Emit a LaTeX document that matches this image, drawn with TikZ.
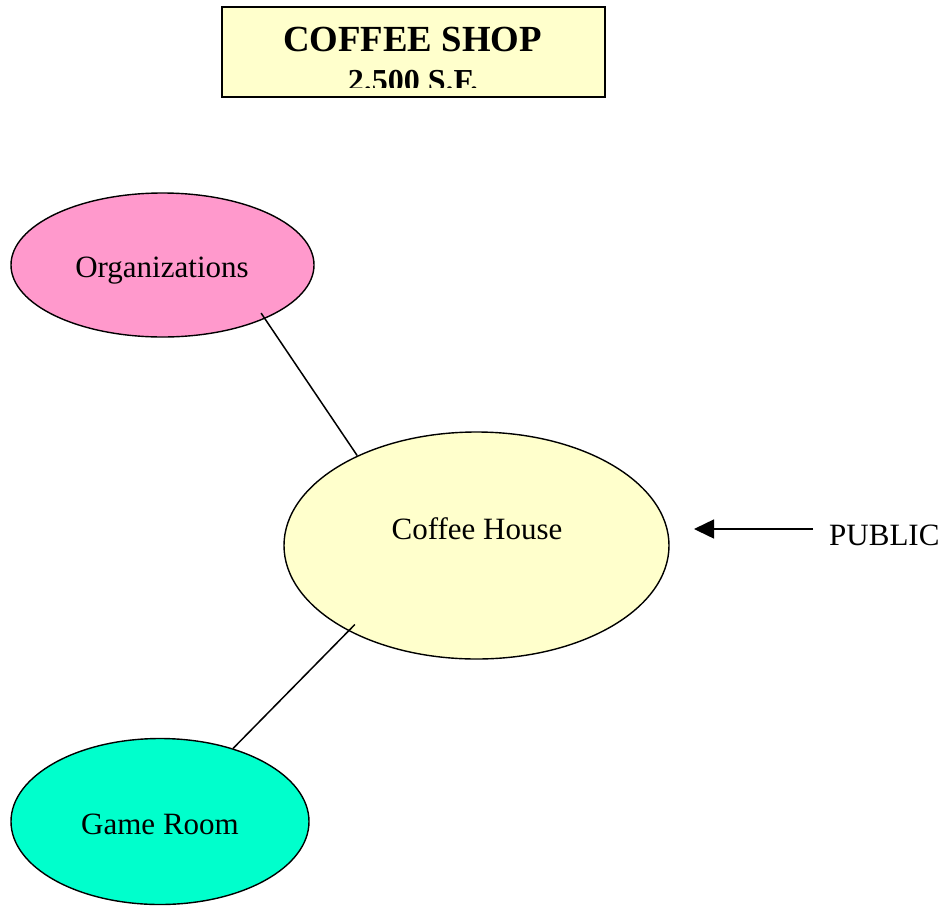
\documentclass[tikz,border=0pt]{standalone}
\usepackage{fontspec}
\setmainfont{Liberation Serif}
\usetikzlibrary{shapes.geometric,arrows.meta,calc}

\definecolor{orgpink}{HTML}{FF99CC}
\definecolor{paleyellow}{HTML}{FFFFCC}
\definecolor{gameteal}{HTML}{00FFCC}

\tikzset{
  room/.style={ellipse, draw=black, line width=1.4pt, inner sep=0pt},
  roomlabel/.style={anchor=base, inner sep=0pt, font=\fontsize{31}{31}\selectfont},
  link/.style={draw=black, line width=1.5pt},
  titlebox/.style={draw=black, line width=1.5pt, fill=paleyellow}
}

\begin{document}
\begin{tikzpicture}[x=1pt, y=-1pt]
  \useasboundingbox (0,0) rectangle (947,905);

  % title block
  \draw[titlebox] (222,7) rectangle (605,97);
  \node[anchor=base, inner sep=0pt, font=\bfseries\fontsize{36.8}{36.8}\selectfont] (title) at (412.5,51) {COFFEE SHOP};
  \begin{scope}
    \clip (223,60) rectangle (604,87.5);
    \node[anchor=base, inner sep=0pt, font=\bfseries\fontsize{32}{32}\selectfont] (area) at (413,91) {2.500 S.F.};
  \end{scope}

  % rooms
  \node[room, fill=orgpink, minimum width=303pt, minimum height=144pt] (org) at (162.5,265) {};
  \node[room, fill=paleyellow, minimum width=385pt, minimum height=227pt] (coffee) at (476.5,545.5) {};
  \node[room, fill=gameteal, minimum width=298pt, minimum height=166pt] (game) at (160,821.5) {};

  \node[roomlabel] (orglabel) at (162,277) {Organizations};
  \node[roomlabel] (coffeelabel) at (477,539) {Coffee House};
  \node[roomlabel] (gamelabel) at (160,834) {Game Room};

  % adjacencies
  \draw[link] ($(org.center)!0.926!(org.-26.2)$) -- (coffee.143.5);
  \draw[link] ($(coffee.center)!0.935!(coffee.213.6)$) -- (game.45);

  % public entry
  \node[roomlabel, anchor=base west] (public) at (829,545) {PUBLIC};
  \coordinate (entrytail) at (813,529);
  \coordinate (entryhead) at (694,529);
  \draw[link, -{Triangle[length=20pt, width=19pt]}] (entrytail) -- (entryhead);
\end{tikzpicture}
\end{document}
